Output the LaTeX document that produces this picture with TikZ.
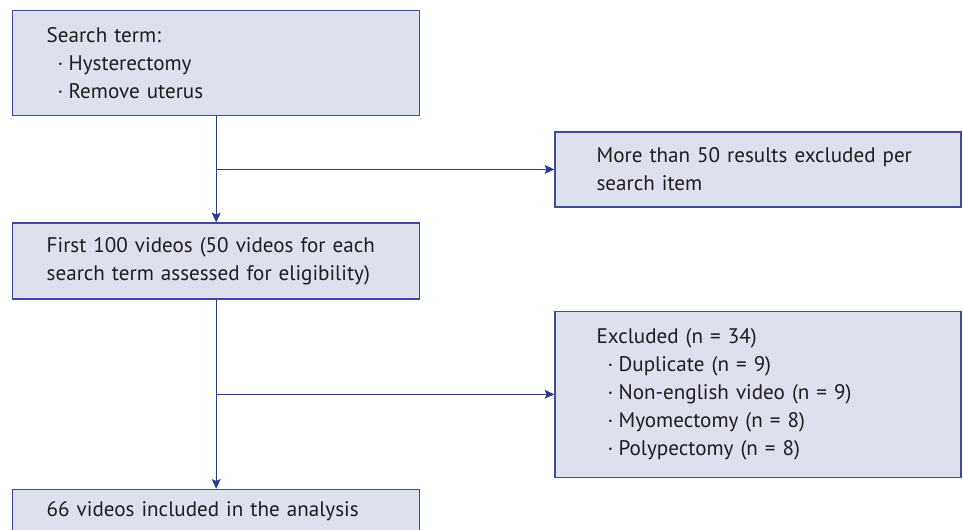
\documentclass[tikz,border=0pt]{standalone}
\usepackage{fontspec}
\setmainfont{PT Sans}
\usetikzlibrary{arrows.meta,positioning,calc}
\definecolor{boxfill}{HTML}{DFE0EE}
\definecolor{boxline}{HTML}{3F4C9E}
\definecolor{flowline}{HTML}{2E3B94}
\definecolor{boxtext}{HTML}{1E1E1E}
\newcommand{\bitem}[1]{\hspace*{0.22cm}\makebox[0.22cm][l]{\textperiodcentered}#1}

\begin{document}
\begin{tikzpicture}[>={Stealth[length=5.5pt,width=5pt,inset=1pt]}, line width=0.8pt,
  every node/.style={draw=boxline, fill=boxfill, text=boxtext, align=left, font=\fontsize{12}{15.93}\selectfont, inner ysep=0pt},
  mainbox/.style={text width=6.78cm, inner xsep=0.68cm},
  sidebox/.style={text width=6.46cm, inner xsep=0.83cm}]
  \useasboundingbox (0,0) rectangle (19.26,10.58);
  % main column
  \node (search) [mainbox, minimum height=2.1cm, anchor=north west] at (0.24,10.38) {Search term:\\ \bitem{Hysterectomy}\\ \bitem{Remove uterus}};
  \node (first) [mainbox, minimum height=1.52cm, below=2.12cm of search] {First 100 videos (50 videos for each\\ search term assessed for eligibility)};
  \node (incl) [mainbox, minimum height=0.88cm, below=3.78cm of first] {66 videos included in the analysis};
  % exclusions
  \node (more) [sidebox, minimum height=1.5cm, right=2.68cm of $(search.south east)!0.5!(first.north east)$] {More than 50 results excluded per\\ search item};
  \node (excl) [sidebox, minimum height=3.32cm, right=2.68cm of $(first.south east)!0.5!(incl.north east)$] {Excluded (n = 34)\\ \bitem{Duplicate (n = 9)}\\ \bitem{Non-english video (n = 9)}\\ \bitem{Myomectomy (n = 8)}\\ \bitem{Polypectomy (n = 8)}};
  \coordinate (split1) at ($(search.south)!0.5!(first.north)$);
  \coordinate (split2) at ($(first.south)!0.5!(incl.north)$);
  \draw[->, flowline] (search) -- (first);
  \draw[->, flowline] (first) -- (incl);
  \draw[->, flowline] (split1) -- (more);
  \draw[->, flowline] (split2) -- (excl);
\end{tikzpicture}
\end{document}
